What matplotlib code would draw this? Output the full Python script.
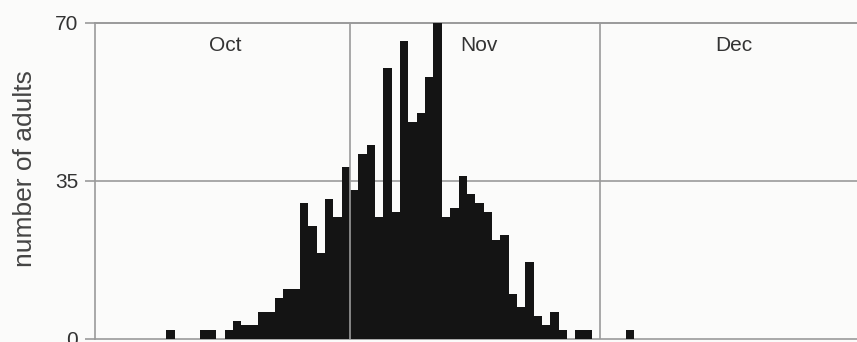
import matplotlib
matplotlib.use("Agg")
import matplotlib.pyplot as plt
import numpy as np

plt.rcParams['font.family'] = ['Liberation Sans', 'DejaVu Sans']

# Daily counts of adults, one value per day
months = ["Oct", "Nov", "Dec"]
oct_counts = [0, 0, 0, 0, 0, 0, 0, 0, 0, 2,
              0, 0, 0, 2, 2, 0, 2, 4, 3, 3,
              6, 6, 9, 11, 11, 30, 25, 19, 31, 27, 38]
nov_counts = [33, 41, 43, 27, 60, 28, 66, 48, 50, 58,
              70, 27, 29, 36, 32, 30, 28, 22, 23, 10,
              7, 17, 5, 3, 6, 2, 0, 2, 2, 0]
dec_counts = [0, 0, 0, 2, 0, 0, 0, 0, 0, 0,
              0, 0, 0, 0, 0, 0, 0, 0, 0, 0,
              0, 0, 0, 0, 0, 0, 0, 0, 0, 0, 0]
y_ticks = [0, 35, 70]

month_counts = [oct_counts, nov_counts, dec_counts]
counts = np.concatenate(month_counts)
days = np.arange(len(counts))
month_starts = np.cumsum([0] + [len(m) for m in month_counts])

W, H = 857, 342
fig = plt.figure(figsize=(W / 100, H / 100), dpi=100)
fig.patch.set_facecolor('#fbfbfa')
ax = fig.add_axes([95 / W, 3 / H, (W - 95) / W, (339 - 22.5) / H])
ax.set_facecolor('#fbfbfa')

grey = '#9a9a9a'
ax.bar(days, counts, width=1.0, align='edge', color='#141414',
       edgecolor='none', zorder=3)

ax.set_xlim(0.46, 91.72)
ax.set_ylim(0, 70)

# month separators and mid gridline
for s in month_starts[1:-1]:
    ax.axvline(s, color=grey, lw=1.2, zorder=4)
ax.axhline(35, color=grey, lw=1.2, zorder=2)
ax.axhline(70, color=grey, lw=1.4, zorder=2, clip_on=False)

for sp in ['left', 'bottom']:
    ax.spines[sp].set_color(grey)
    ax.spines[sp].set_linewidth(1.2)
for sp in ['right', 'top']:
    ax.spines[sp].set_visible(False)

ax.set_xticks([])
ax.set_yticks(y_ticks)
ax.set_yticklabels([str(v) for v in y_ticks])
ax.tick_params(axis='y', length=7, width=1.2, color=grey, pad=5,
               labelsize=15, labelcolor='#333333')

# month names across the top
for i, name in enumerate(months):
    mid = (month_starts[i] + month_starts[i + 1]) / 2 + 0.5
    ax.text(mid, 0.926, name, transform=ax.get_xaxis_transform(),
            ha='center', va='center', fontsize=15, color='#333333')

fig.text(25 / W, 1 - 168.5 / H, "number of adults", rotation=90,
         ha='center', va='center', fontsize=19, color='#444444')

fig.savefig("out.png", dpi=100, facecolor=fig.get_facecolor())
